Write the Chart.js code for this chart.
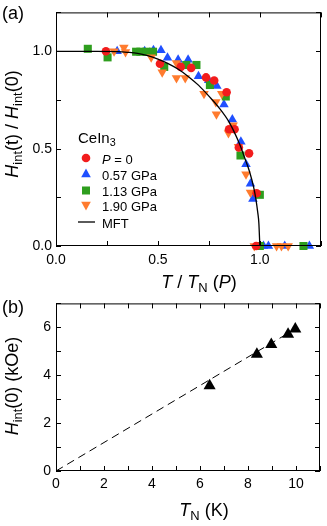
<!DOCTYPE html>
<html><head><meta charset="utf-8">
<script src="https://cdn.jsdelivr.net/npm/chart.js@4"></script>
<style>
html,body{margin:0;padding:0;background:#fff}
body{width:327px;height:526px;overflow:hidden;position:relative;font-family:"Liberation Sans",Arial,sans-serif;color:#000}
canvas{position:absolute;left:0}
.t{position:absolute;white-space:nowrap;line-height:1}
.c{transform:translate(-50%,-50%)}
.r{transform:translate(-50%,-50%) rotate(-90deg)}
sub{font-size:72%;vertical-align:-0.28em;line-height:0}
.leg{position:absolute;left:0;top:0;font-size:13px}
.row{position:absolute;white-space:nowrap;line-height:1;transform:translateY(-50%)}
#legsvg{position:absolute;left:0;top:0;width:327px;height:526px;pointer-events:none}
</style></head><body>
<canvas id="ca" width="327" height="300" style="top:0;width:327px;height:300px"></canvas>
<canvas id="cb" width="327" height="236" style="top:290px;width:327px;height:236px"></canvas>

<div class="t c" style="left:13px;top:13px;font-size:18px">(a)</div>
<div class="t c" style="left:13px;top:307px;font-size:18px">(b)</div>
<div class="t r" style="left:12px;top:124px;font-size:18px"><i>H</i><sub>int</sub>(t) / <i>H</i><sub>int</sub>(0)</div>
<div class="t c" style="left:199px;top:282px;font-size:18px"><i>T</i> / <i>T</i><sub>N</sub> (<i>P</i>)</div>
<div class="t r" style="left:12px;top:386px;font-size:18px"><i>H</i><sub>int</sub>(0) (kOe)</div>
<div class="t c" style="left:204px;top:510px;font-size:18px"><i>T</i><sub>N</sub> (K)</div>

<div class="t" style="left:78px;top:130px;font-size:15px">CeIn<sub>3</sub></div>
<svg id="legsvg" xmlns="http://www.w3.org/2000/svg" width="327" height="526" viewBox="0 0 327 526">
  <circle cx="86" cy="158" r="4.3" fill="#f21c1c"/>
  <polygon points="86,168.5 90.8,177.3 81.2,177.3" fill="#1f4fff"/>
  <rect x="82" y="186.5" width="8" height="8" fill="#2e9e1e"/>
  <polygon points="86,210.5 90.8,201.7 81.2,201.7" fill="#ff7b2e"/>
  <line x1="78" y1="222" x2="95" y2="222" stroke="#000" stroke-width="1.3"/>
</svg>
<div class="leg">
  <div class="row" style="left:102px;top:159px"><i>P</i> = 0</div>
  <div class="row" style="left:102px;top:175px">0.57 GPa</div>
  <div class="row" style="left:102px;top:191px">1.13 GPa</div>
  <div class="row" style="left:102px;top:206px">1.90 GPa</div>
  <div class="row" style="left:102px;top:223px">MFT</div>
</div>

<script>
// ---- Panel (a) data: H_int(t)/H_int(0) vs T/T_N(P) ----
const p0X   = [0.245,0.51,0.612,0.663,0.736,0.776,0.837,0.849,0.876,0.897,0.947,0.984,0.982];
const p0Y   = [1.0,0.936,0.92,0.915,0.866,0.85,0.79,0.60,0.60,0.506,0.476,0.271,0];
const p057X = [0.30,0.435,0.478,0.515,0.547,0.599,0.648,0.699,0.749,0.789,0.824,0.865,0.907,0.932,0.954,0.966,1.018,1.042,1.122,1.243];
const p057Y = [1.0,1.0,1.005,1.005,0.967,0.957,0.957,0.872,0.851,0.822,0.727,0.65,0.536,0.42,0.32,0.242,0,0,0,0];
const p113X = [0.156,0.253,0.393,0.414,0.443,0.476,0.531,0.639,0.689,0.755,0.833,0.905,1.0,1.0,1.214];
const p113Y = [1.013,0.969,0.998,0.998,0.998,0.998,0.92,0.93,0.93,0.827,0.768,0.465,0.263,0,0];
const p190X = [0.285,0.333,0.341,0.467,0.521,0.591,0.591,0.634,0.726,0.784,0.787,0.813,0.846,0.869,0.895,0.932,0.954,0.973,1.082,1.106,1.139];
const p190Y = [1.0,1.02,0.997,0.969,0.893,0.94,0.863,0.863,0.782,0.74,0.677,0.782,0.58,0.62,0.51,0.369,0.275,0,0,0,0];
// MFT curve
const mftX = [0,0.1,0.2,0.3,0.35,0.4,0.45,0.5,0.55,0.6,0.65,0.7,0.75,0.8,0.85,0.9,0.93,0.95,0.97,0.98,0.99,0.995,1.0];
const mftY = [1,1,1,0.998,0.995,0.99,0.978,0.96,0.937,0.908,0.87,0.825,0.77,0.71,0.635,0.525,0.44,0.38,0.3,0.245,0.17,0.12,0];
// ---- Panel (b) data: H_int(0) vs T_N ----
const tnX = [6.4,8.37,8.97,9.67,9.97];
const h0Y = [3.56,4.88,5.28,5.71,5.93];
const fitX = [0,10];
const fitY = [0,5.95];
// ---- tick labels ----
const aXLabels = [0,0.5,1.0];
const aYLabels = [0,0.5,1.0];
const bXLabels = [0,2,4,6,8,10];
const bYLabels = [0,2,4,6];

const pts = (xs,ys)=>xs.map((x,i)=>({x:x,y:ys[i]}));
const has = (arr,v)=>arr.some(a=>Math.abs(a-v)<1e-6);
const FONT = {family:'"Liberation Sans", Arial, sans-serif', size:14};

const frameTicks = {
  id:'frameTicks',
  afterDatasetsDraw(chart){
    const {ctx, chartArea:a, scales:{x,y}} = chart;
    ctx.save();
    ctx.strokeStyle='#000'; ctx.lineWidth=1;
    const L=5;
    ctx.beginPath();
    x.ticks.forEach(t=>{
      const px=Math.round(x.getPixelForValue(t.value))+0.5;
      ctx.moveTo(px,a.bottom); ctx.lineTo(px,a.bottom-L);
      ctx.moveTo(px,a.top); ctx.lineTo(px,a.top+L);
    });
    y.ticks.forEach(t=>{
      const py=Math.round(y.getPixelForValue(t.value))+0.5;
      ctx.moveTo(a.left,py); ctx.lineTo(a.left+L,py);
      ctx.moveTo(a.right,py); ctx.lineTo(a.right-L,py);
    });
    ctx.stroke();
    ctx.strokeRect(a.left+0.5,a.top+0.5,a.width-1,a.height-1);
    ctx.restore();
  }
};

function axis(min,max,step,labels,fmt,padding,fitFn){
  return {
    type:'linear', min:min, max:max,
    grid:{display:false, drawTicks:false},
    border:{display:false},
    ticks:{stepSize:step, autoSkip:false, maxRotation:0, padding:padding, color:'#000', font:FONT,
      callback:(v)=>has(labels,v)?fmt(v):''},
    afterFit:fitFn
  };
}

Chart.defaults.animation = false;

new Chart(document.getElementById('ca'),{
  type:'scatter',
  data:{datasets:[
    {data:pts(mftX,mftY), showLine:true, borderColor:'#000', borderWidth:1.3, pointRadius:0, cubicInterpolationMode:'monotone', order:0, clip:false},
    {data:pts(p0X,p0Y), pointStyle:'circle', pointRadius:4.3, backgroundColor:'#f21c1c', borderColor:'#f21c1c', borderWidth:0, order:1, clip:false},
    {data:pts(p057X,p057Y), pointStyle:'triangle', pointRadius:5.5, backgroundColor:'#1f4fff', borderColor:'#1f4fff', borderWidth:0, order:4, clip:false},
    {data:pts(p113X,p113Y), pointStyle:'rect', pointRadius:5.7, backgroundColor:'#2e9e1e', borderColor:'#2e9e1e', borderWidth:0, order:3, clip:false},
    {data:pts(p190X,p190Y), pointStyle:'triangle', rotation:180, pointRadius:5.5, backgroundColor:'#ff7b2e', borderColor:'#ff7b2e', borderWidth:0, order:2, clip:false}
  ]},
  options:{
    responsive:false, animation:false, events:[],
    layout:{padding:{top:1,right:2,left:0,bottom:0}},
    plugins:{legend:{display:false}, tooltip:{enabled:false}},
    scales:{
      x:axis(0,1.3,0.25,aXLabels,v=>v.toFixed(1),6,s=>{s.height=54;}),
      y:axis(0,1.2,0.25,aYLabels,v=>v.toFixed(1),4,s=>{s.width=56;})
    }
  },
  plugins:[frameTicks]
});

new Chart(document.getElementById('cb'),{
  type:'scatter',
  data:{datasets:[
    {data:pts(fitX,fitY), showLine:true, borderColor:'#000', borderWidth:1, borderDash:[8,5], pointRadius:0, order:1, clip:false},
    {data:pts(tnX,h0Y), pointStyle:'triangle', pointRadius:7, backgroundColor:'#000', borderColor:'#000', borderWidth:0, order:0, clip:false}
  ]},
  options:{
    responsive:false, animation:false, events:[],
    layout:{padding:{top:7,right:2,left:0,bottom:0}},
    plugins:{legend:{display:false}, tooltip:{enabled:false}},
    scales:{
      x:axis(0,11,1,bXLabels,v=>String(Math.round(v)),5,s=>{s.height=55;}),
      y:axis(0,7,1,bYLabels,v=>String(Math.round(v)),5,s=>{s.width=56;})
    }
  },
  plugins:[frameTicks]
});
</script>
</body></html>
